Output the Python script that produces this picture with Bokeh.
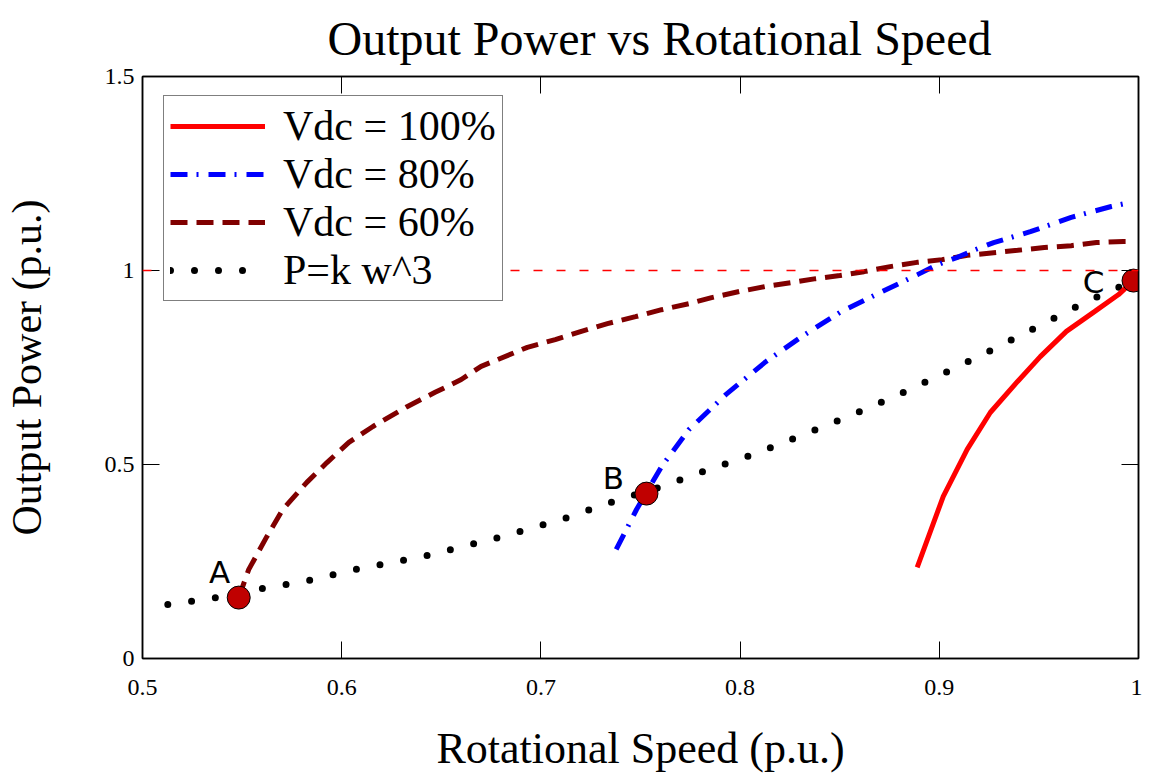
from bokeh.plotting import figure
from bokeh.models import LinearAxis, FixedTicker, Legend, LegendItem, Span, ColumnDataSource
from bokeh.embed import file_html
from bokeh.resources import INLINE
from bokeh.core.properties import value

# ---------------- data ----------------
title_text = "Output Power vs Rotational Speed"
x_label = "Rotational Speed (p.u.)"
y_label = "Output Power (p.u.)"

x_lo, x_hi = 0.5, 1.0
y_lo, y_hi = 0.0, 1.5

x_ticks = [0.5, 0.6, 0.7, 0.8, 0.9, 1.0]
x_tick_labels = ["0.5", "0.6", "0.7", "0.8", "0.9", "1"]
y_ticks = [0.0, 0.5, 1.0, 1.5]
y_tick_labels = ["0", "0.5", "1", "1.5"]

v100_x = [0.8889, 0.9020, 0.9140, 0.9256, 0.9393, 0.9507, 0.9638, 0.9779, 0.9900, 0.9975]
v100_y = [0.235, 0.418, 0.539, 0.634, 0.714, 0.778, 0.843, 0.894, 0.938, 0.974]

v80_x = [0.7378, 0.7480, 0.7606, 0.7743, 0.7928, 0.8129, 0.8310, 0.8501, 0.8702, 0.8893,
         0.8990, 0.9091, 0.9172, 0.9273, 0.9457, 0.9662, 0.9863, 0.9955]
v80_y = [0.281, 0.384, 0.495, 0.590, 0.680, 0.765, 0.830, 0.892, 0.943, 0.990,
         1.015, 1.034, 1.052, 1.072, 1.100, 1.137, 1.165, 1.175]

v60_x = [0.5483, 0.5533, 0.5624, 0.5704, 0.5825, 0.5926, 0.6036, 0.6157, 0.6328, 0.6469,
         0.6600, 0.6700, 0.6932, 0.7072, 0.7203, 0.7334, 0.7475, 0.7606, 0.7747, 0.7857,
         0.7998, 0.8129, 0.8260, 0.8380, 0.8501, 0.8622, 0.8753, 0.8888, 0.9014, 0.9141,
         0.9273, 0.9393, 0.9527, 0.9662, 0.9789, 0.9925, 0.9965]
v60_y = [0.157, 0.229, 0.314, 0.384, 0.454, 0.505, 0.557, 0.598, 0.649, 0.686,
         0.719, 0.753, 0.802, 0.822, 0.843, 0.863, 0.881, 0.899, 0.915, 0.930,
         0.946, 0.959, 0.969, 0.979, 0.987, 0.997, 1.010, 1.021, 1.028, 1.039,
         1.046, 1.052, 1.059, 1.064, 1.072, 1.075, 1.075]

cubic_x = [0.5127, 0.5352, 0.5594, 0.5825, 0.6066, 0.6425, 0.6811, 0.7113, 0.7368, 0.7606,
           0.7843, 0.8079, 0.8318, 0.8551, 0.8788, 0.9030, 0.9266, 0.9497, 0.9739, 0.9975]
cubic_y = [0.139, 0.155, 0.180, 0.200, 0.229, 0.265, 0.315, 0.360, 0.405, 0.443,
           0.487, 0.528, 0.577, 0.625, 0.678, 0.737, 0.796, 0.856, 0.920, 0.974]

point_names = ["A", "B", "C"]
point_x = [0.5483, 0.7530, 0.9975]
point_y = [0.157, 0.425, 0.974]

rated_power = 1.0

series_labels = ["Vdc = 100%", "Vdc = 80%", "Vdc = 60%", "P=k w^3"]

# ---------------- figure ----------------
SERIF = "Liberation Serif"
FRAME_W, FRAME_H = 996, 582

p = figure(frame_width=FRAME_W, frame_height=FRAME_H, x_range=(x_lo, x_hi), y_range=(y_lo, y_hi),
           output_backend="svg", toolbar_location=None,
           x_axis_location=None, y_axis_location=None,
           min_border_left=139, min_border_right=4, min_border_top=76, min_border_bottom=110)
p.xgrid.visible = False
p.ygrid.visible = False
p.outline_line_color = "black"
p.outline_line_width = 1.5
p.background_fill_color = "white"
p.border_fill_color = "white"

p.title.text = title_text
p.title.text_font = SERIF
p.title.text_font_size = "48px"
p.title.text_font_style = "normal"
p.title.text_color = "black"
p.title.align = "left"
p.title.vertical_align = "top"
p.title.offset = 185
p.title.standoff = 19


def style_axis(ax, labels=True):
    ax.major_tick_in = 17
    ax.major_tick_out = 0
    ax.minor_tick_line_color = None
    ax.axis_line_color = "black"
    ax.axis_line_width = 1.5
    ax.major_tick_line_color = "black"
    ax.major_tick_line_width = 1
    ax.major_label_text_font = SERIF
    ax.axis_label_text_font = SERIF
    ax.axis_label_text_font_style = "normal"
    ax.axis_label_text_color = "black"
    if labels:
        ax.major_label_text_color = "black"
        ax.major_label_text_font_size = "24px"
    else:
        ax.major_label_text_color = None
        ax.major_label_text_font_size = "1px"
        ax.major_label_standoff = 0


xb = LinearAxis(ticker=FixedTicker(ticks=x_ticks),
                major_label_overrides=dict(zip(x_ticks, x_tick_labels)),
                axis_label=x_label)
style_axis(xb)
xb.axis_label_text_font_size = "44px"
xb.major_label_standoff = 21
xb.axis_label_standoff = 26
p.add_layout(xb, "below")

yl = LinearAxis(ticker=FixedTicker(ticks=y_ticks),
                major_label_overrides=dict(zip(y_ticks, y_tick_labels)),
                axis_label=y_label)
style_axis(yl)
yl.axis_label_text_font_size = "42px"
yl.major_label_standoff = 8
yl.axis_label_standoff = 52
p.add_layout(yl, "left")

xt = LinearAxis(ticker=FixedTicker(ticks=x_ticks))
style_axis(xt, labels=False)
p.add_layout(xt, "above")

yr = LinearAxis(ticker=FixedTicker(ticks=y_ticks))
style_axis(yr, labels=False)
p.add_layout(yr, "right")

# rated power reference line
p.add_layout(Span(location=rated_power, dimension="width", line_color="red",
                  line_width=1.5, line_dash="9 14"))

# series
r_cubic = p.line(cubic_x, cubic_y, line_color="black", line_width=7,
                 line_dash="0 24", line_cap="round")
r60 = p.line(v60_x, v60_y, line_color="#800000", line_width=5, line_dash="17 9")
r80 = p.line(v80_x, v80_y, line_color="#0000ff", line_width=5, line_dash="17 9 2 10")
r100 = p.line(v100_x, v100_y, line_color="#ff0000", line_width=5)

# operating points
pts = ColumnDataSource(dict(x=point_x, y=point_y, t=point_names,
                            xo=[-19, -33, -40], yo=[-26, -16, 1]))
p.scatter("x", "y", source=pts, size=23, marker="circle",
          fill_color="#c00000", line_color="black", line_width=1)
p.text("x", "y", text="t", source=pts, x_offset="xo", y_offset="yo",
       text_font=value("DejaVu Sans"), text_font_size="31px",
       text_align="center", text_baseline="middle", text_color="black")

# legend: bottom-left corner given in screen px from the frame's bottom-left
legend = Legend(items=[LegendItem(label=series_labels[0], renderers=[r100]),
                       LegendItem(label=series_labels[1], renderers=[r80]),
                       LegendItem(label=series_labels[2], renderers=[r60]),
                       LegendItem(label=series_labels[3], renderers=[r_cubic])],
                location=(21, 357), padding=6, spacing=0,
                glyph_width=95, glyph_height=20, label_standoff=18,
                label_text_font=SERIF, label_text_font_size="42px",
                label_text_color="black", label_height=40,
                border_line_color="black", border_line_width=1.5,
                background_fill_color="white", background_fill_alpha=1.0)
p.add_layout(legend)

open("out.html", "w").write(file_html(p, INLINE))
